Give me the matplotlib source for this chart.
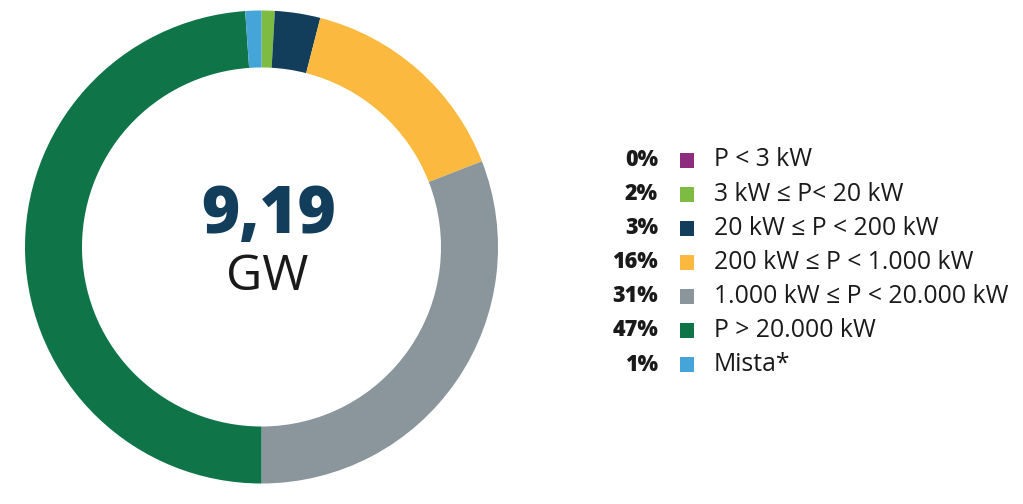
import matplotlib
matplotlib.use("Agg")
import matplotlib.pyplot as plt
from matplotlib.patches import Rectangle

categories = ["P < 3 kW", "3 kW ≤ P< 20 kW", "20 kW ≤ P < 200 kW", "200 kW ≤ P < 1.000 kW",
              "1.000 kW ≤ P < 20.000 kW", "P > 20.000 kW", "Mista*"]
pct_labels = ["0%", "2%", "3%", "16%", "31%", "47%", "1%"]
values = [0.0, 0.9, 3.1, 15.1, 30.9, 48.9, 1.1]
colors = ["#8E2D7E", "#7DBB42", "#123E5C", "#FBBA3F", "#8A959C", "#0F7549", "#45A5D9"]
total_text = "9,19"
unit_text = "GW"

W, H = 1023, 504
fig = plt.figure(figsize=(W / 100, H / 100), dpi=100)
ax = fig.add_axes([0, 0, 1, 1])

cx, cy, R = 261.5, H - 247, 236.5
ax.pie(values, colors=colors, startangle=90, counterclock=False,
       center=(cx, cy), radius=R, frame=True,
       wedgeprops=dict(width=R - 179.5, linewidth=0))
ax.set_xlim(0, W)
ax.set_ylim(0, H)
ax.set_aspect("equal")
ax.axis("off")

ax.text(cx + 7, H - 216, total_text, ha="center", va="center", fontsize=47,
        fontweight=800, family=["Open Sans", "DejaVu Sans"], color="#123E5C")
ax.text(cx + 6, H - 277, unit_text, ha="center", va="center", fontsize=36,
        fontweight="normal", family=["Open Sans", "DejaVu Sans"], color="#1a1a1a")

row0, step = 160, 34.1
for i, (lab, pct, col) in enumerate(zip(categories, pct_labels, colors)):
    y = H - (row0 + i * step)
    ax.text(658, y, pct, ha="right", va="center", fontsize=15.5, fontweight=800,
            family=["Open Sans", "DejaVu Sans"], color="#1a1a1a")
    ax.add_patch(Rectangle((680, y - 7.5), 14, 15, facecolor=col, edgecolor="none"))
    ax.text(714, y, lab, ha="left", va="center", fontsize=17.8,
            family=["Open Sans", "DejaVu Sans"], color="#1a1a1a")

fig.savefig("out.png", dpi=100, facecolor="white")
